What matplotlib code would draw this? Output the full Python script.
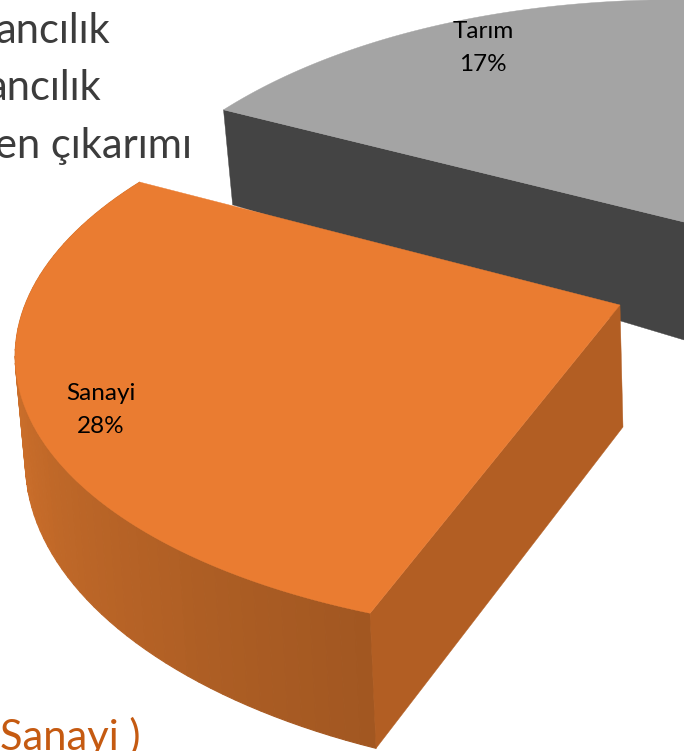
import numpy as np
import matplotlib
matplotlib.use("Agg")
import matplotlib.pyplot as plt
from matplotlib.patches import Polygon

categories = ["Tarım", "Sanayi"]
shares = [17, 28]
slide_lines = ["ancılık", "ancılık", "en çıkarımı"]
slide_footer = "Sanayi )"

GREY, DARK = "#A4A4A4", "#444444"
ORANGE, ORANGE_SIDE = "#EA7C31", "#B25E23"
RIM_L, RIM_R = np.array([0.81, 0.44, 0.17]), np.array([0.63, 0.34, 0.13])

# perspective of each wedge: centre, R, Q, S, k, bottom height and its variation,
# first edge angle and angular stretch
TARIM = dict(c=(733, 234), R=632, Q=-78, S=328, k=0.40, h=121.5, p=1.5, ha=0.0, hb=0.0,
             start=153.5, stretch=-1.28)
SANAYI = dict(c=(620, 305), R=595, Q=9, S=277, k=0.165, h=122, p=0.0, ha=0.168, hb=-0.175,
              start=151.4, stretch=0.979)


def rim(m, phi_deg):
    a = np.radians(phi_deg)
    d = 1 + m["k"] * np.sin(a)
    return (m["c"][0] + (m["R"] * np.cos(a) + m["Q"] * np.sin(a)) / d,
            m["c"][1] - m["S"] * np.sin(a) / d)


def below(m, x, y, phi_deg):
    a = np.radians(phi_deg)
    s = 1 / (1 + m["k"] * np.sin(a))
    tilt = 1 + m["ha"] * np.cos(a) + m["hb"] * np.sin(a)
    return x + 3 + (m["c"][0] - x) * 0.012, y + m["h"] * s ** m["p"] * tilt


def below_centre(m):
    return m["c"][0] + 3, m["c"][1] + m["h"]


def angles(m, share, n):
    return np.linspace(m["start"], m["start"] + share / 100 * 360 * m["stretch"], n)


fig = plt.figure(figsize=(6.84, 7.51), dpi=100, facecolor="white")
ax = fig.add_axes([0, 0, 1, 1])
ax.set_xlim(0, 684)
ax.set_ylim(751, 0)
ax.axis("off")

for line, right, base in zip(slide_lines, (110, 101, 192), (43, 100, 158)):
    ax.text(right, base, line, ha="right", va="baseline", fontsize=30,
            family="Lato", color="#3C3C3C")
ax.text(141, 750, slide_footer, ha="right", va="baseline", fontsize=30,
        family="Lato", color="#C55A11", clip_on=True)

# Tarım wedge
phi_t = angles(TARIM, shares[0], 120)
xt, yt = rim(TARIM, phi_t)
xb, yb = below(TARIM, xt[0], yt[0], phi_t[0])
cb = below_centre(TARIM)
ax.add_patch(Polygon([(xt[0], yt[0]), TARIM["c"], cb, (xb, yb)], fc=DARK, ec=DARK, lw=0.3))
ax.add_patch(Polygon(list(zip(xt, yt)) + [TARIM["c"]], fc=GREY, ec=GREY, lw=0.3))

# Sanayi wedge
phi_s = angles(SANAYI, shares[1], 72)
xs, ys = rim(SANAYI, phi_s)
xsb, ysb = below(SANAYI, xs, ys, phi_s)
for i in range(len(phi_s) - 1):
    f = np.clip((phi_s[i] - 190) / 60, 0, 1)
    col = RIM_L + (RIM_R - RIM_L) * f
    ax.add_patch(Polygon([(xs[i], ys[i]), (xs[i + 1], ys[i + 1]),
                          (xsb[i + 1], ysb[i + 1]), (xsb[i], ysb[i])],
                         fc=col, ec=col, lw=0.8))
cb = below_centre(SANAYI)
ax.add_patch(Polygon([SANAYI["c"], (xs[-1], ys[-1]), (xsb[-1], ysb[-1]), cb],
                     fc=ORANGE_SIDE, ec=ORANGE_SIDE, lw=0.3))
ax.add_patch(Polygon(list(zip(xs, ys)) + [SANAYI["c"]], fc=ORANGE, ec=ORANGE, lw=0.3))

for name, val, x, y in zip(categories, shares, (483, 101), (48, 410)):
    ax.text(x, y, f"{name}\n{val}%", ha="center", va="center", fontsize=17.5,
            family="Lato", color="black", linespacing=1.7)

fig.savefig("out.png", dpi=100, facecolor="white")
